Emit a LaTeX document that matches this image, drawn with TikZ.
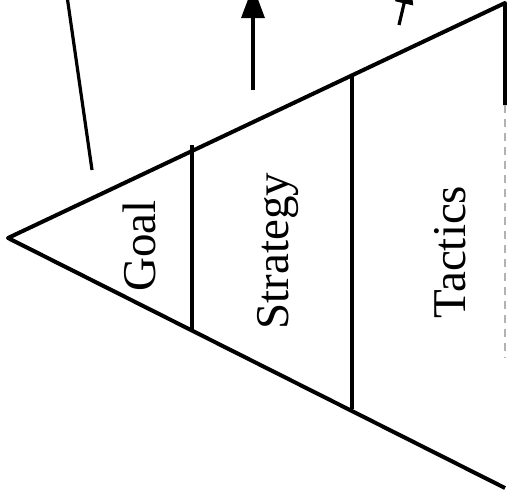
\documentclass[tikz,border=0pt]{standalone}
\usepackage{fontspec}
\setmainfont{Liberation Serif}
\usepackage{tikz}
\usetikzlibrary{arrows.meta}

\begin{document}
\begin{tikzpicture}[x=0.5pt, y=-0.5pt, line width=2pt]

  \useasboundingbox (0,0) rectangle (507,493);
  \clip (0,0) rectangle (507,493);

  % Corners
  \coordinate (apex) at (8,238);
  \coordinate (topright) at (505,3);
  \coordinate (botright) at (505,488);
  \coordinate (rightmid) at (505,105);
  \coordinate (rightend) at (505,358);

  % Triangle
  \draw[line join=round] (rightmid) -- (topright) -- (apex) -- (botright);
  \draw[gray!60, line width=0.6pt, dash pattern=on 4pt off 3pt] (rightmid) -- (rightend);

  % Dividers
  \coordinate (goaltop) at (192,145);
  \coordinate (goalbot) at (192,329);
  \coordinate (strattop) at (352,76);
  \coordinate (stratbot) at (352,409);
  \draw[line width=1.6pt] (goaltop) -- (goalbot);
  \draw[line width=1.6pt] (strattop) -- (stratbot);

  % Nodes
  \node[rotate=90, anchor=base, font=\fontsize{23.5}{28}\selectfont] (goal) at (155,246) {Goal};
  \node[rotate=90, anchor=base, font=\fontsize{23.5}{28}\selectfont] (strategy) at (288,251) {Strategy};
  \node[rotate=90, anchor=base, font=\fontsize{23.5}{28}\selectfont] (tactics) at (465,252) {Tactics};

  % Arrows
  \coordinate (linefoot) at (92,170);
  \coordinate (linehead) at (67,-4);
  \draw[line width=1.6pt] (linefoot) -- (linehead);

  \coordinate (upfoot) at (253,90);
  \coordinate (uphead) at (253,-14);
  \draw[line width=1.6pt, -{Triangle[length=16pt, width=11.5pt]}] (upfoot) -- (uphead);

  \coordinate (sidefoot) at (399,25);
  \coordinate (sidehead) at (410,-22);
  \draw[line width=1.6pt, -{Triangle[length=13pt, width=9pt]}] (sidefoot) -- (sidehead);

\end{tikzpicture}
\end{document}
